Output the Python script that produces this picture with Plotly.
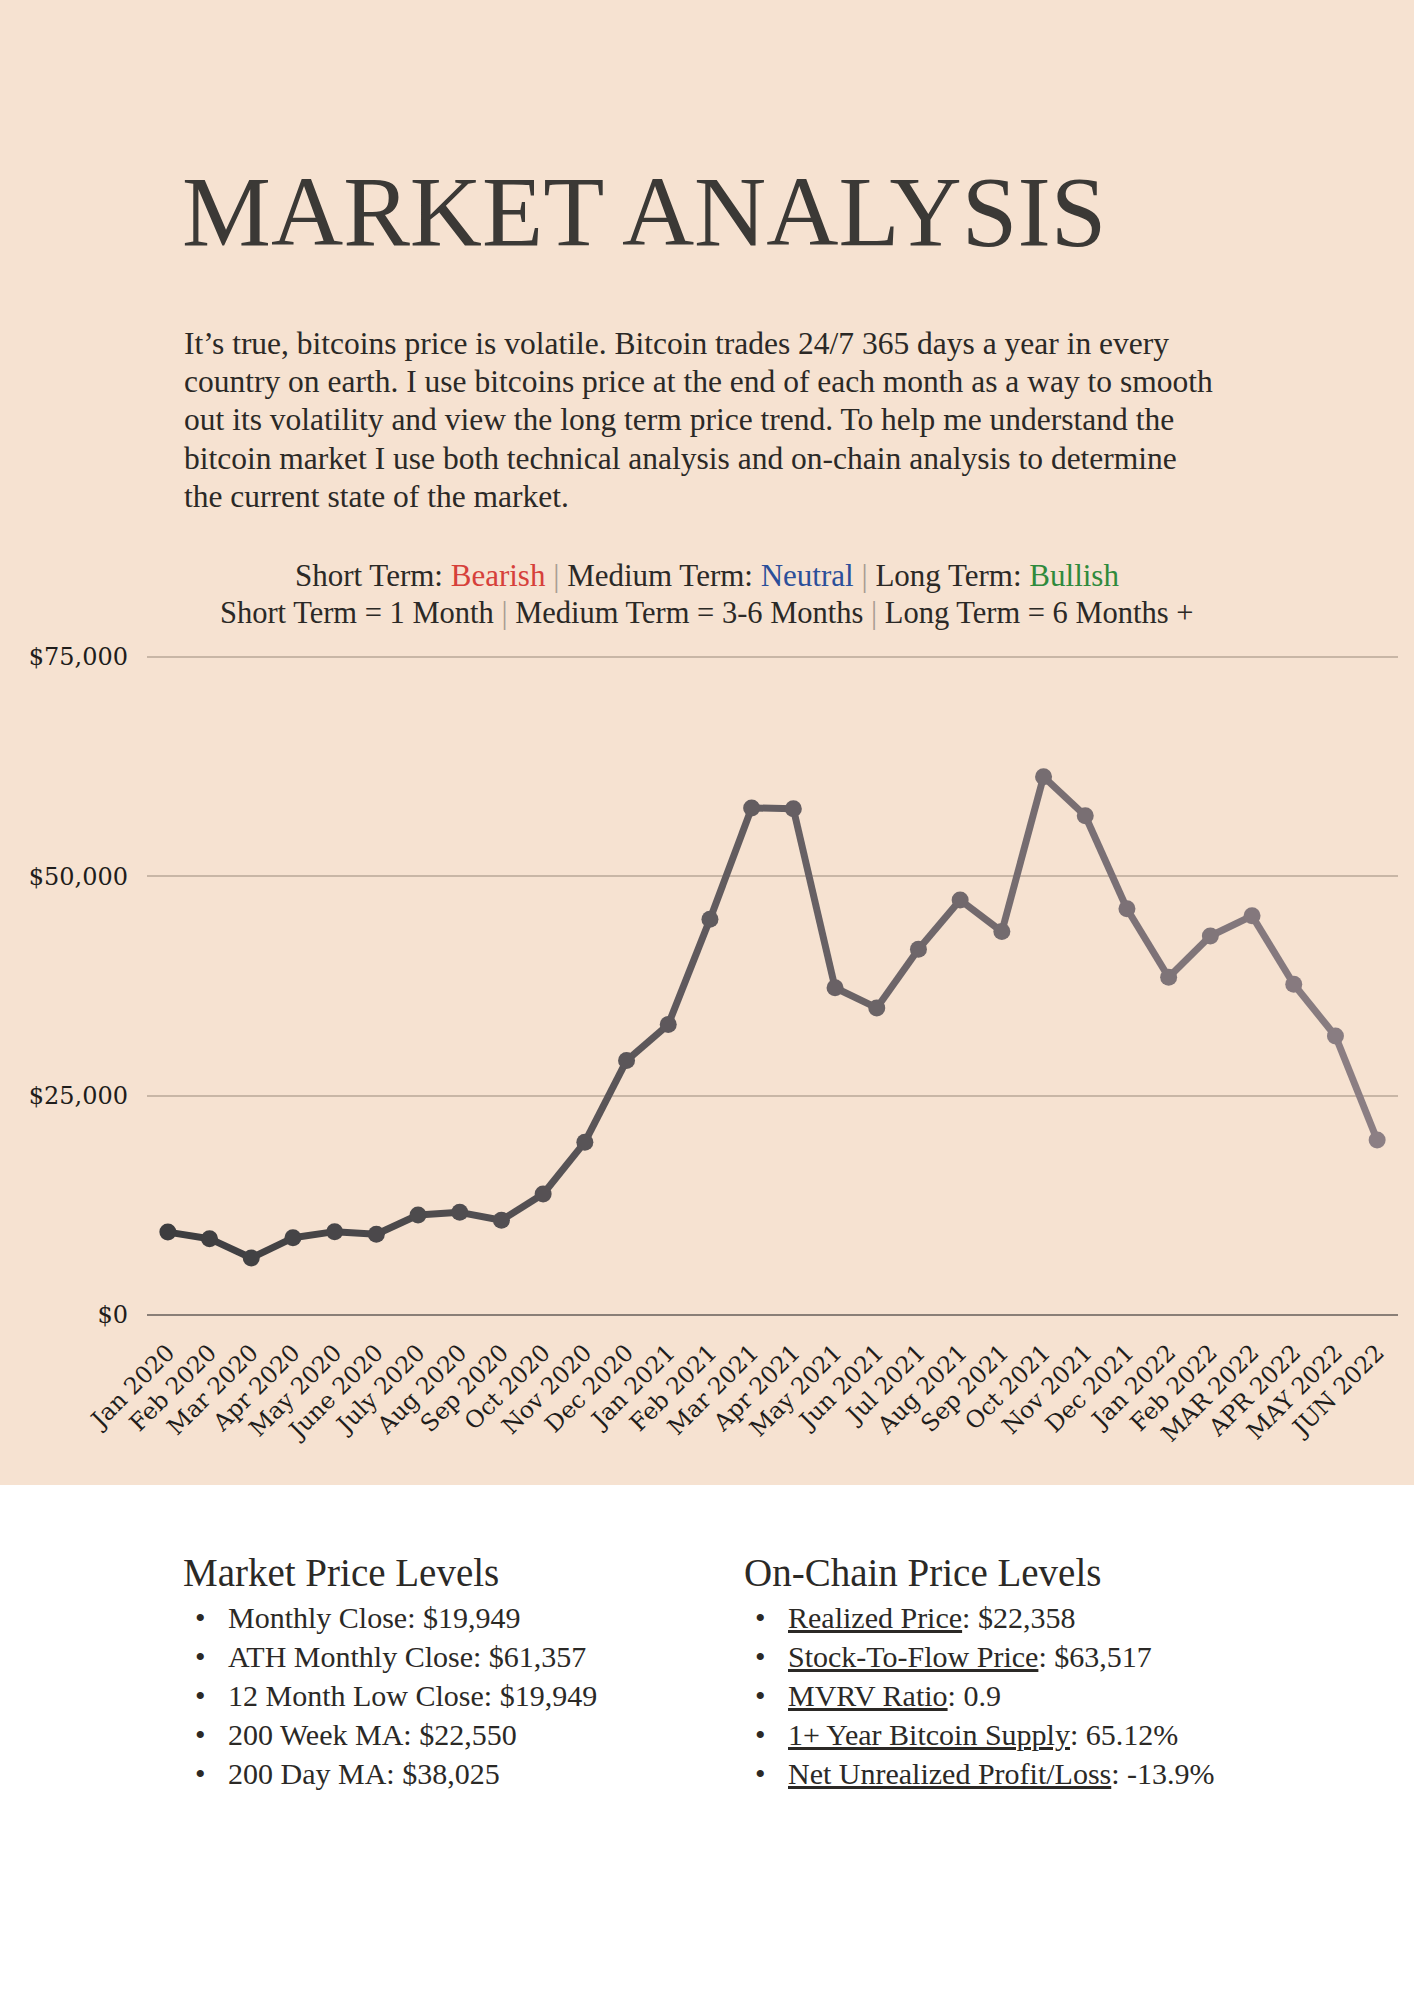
import plotly.graph_objects as go

# ---------------- data ----------------
months = ["Jan 2020", "Feb 2020", "Mar 2020", "Apr 2020", "May 2020", "June 2020",
          "July 2020", "Aug 2020", "Sep 2020", "Oct 2020", "Nov 2020", "Dec 2020",
          "Jan 2021", "Feb 2021", "Mar 2021", "Apr 2021", "May 2021", "Jun 2021",
          "Jul 2021", "Aug 2021", "Sep 2021", "Oct 2021", "Nov 2021", "Dec 2021",
          "Jan 2022", "Feb 2022", "MAR 2022", "APR 2022", "MAY 2022", "JUN 2022"]
prices = [9450, 8700, 6500, 8800, 9500, 9200,
          11400, 11700, 10800, 13800, 19700, 29000,
          33100, 45100, 57800, 57700, 37300, 35000,
          41700, 47300, 43700, 61357, 56900, 46300,
          38500, 43200, 45500, 37700, 31800, 19949]
y_ticks = [0, 25000, 50000, 75000]
y_tick_labels = ["$0", "$25,000", "$50,000", "$75,000"]

title_text = "MARKET ANALYSIS"
paragraph_lines = [
    "It\u2019s true, bitcoins price is volatile. Bitcoin trades 24/7 365 days a year in every",
    "country on earth. I use bitcoins price at the end of each month as a way to smooth",
    "out its volatility and view the long term price trend. To help me understand the",
    "bitcoin market I use both technical analysis and on-chain analysis to determine",
    "the current state of the market.",
]
market_heading = "Market Price Levels"
market_items = ["Monthly Close: $19,949", "ATH Monthly Close: $61,357",
                "12 Month Low Close: $19,949", "200 Week MA: $22,550",
                "200 Day MA: $38,025"]
onchain_heading = "On-Chain Price Levels"
onchain_names = ["Realized Price", "Stock-To-Flow Price", "MVRV Ratio",
                 "1+ Year Bitcoin Supply", "Net Unrealized Profit/Loss"]
onchain_values = ["$22,358", "$63,517", "0.9", "65.12%", "-13.9%"]

# ---------------- style ----------------
W, H = 1414, 2000
BEIGE = "#f6e2d1"
TEXT = "#2b2926"
SERIF = "Liberation Serif"
TICKFONT = "DejaVu Serif"
c_start = (61, 61, 63)
c_end = (140, 127, 132)

Y_TOP = 75400
y0_px, y75_px = 1315, 657
top_px = y0_px - (y0_px - y75_px) * Y_TOP / 75000


def px(x):
    return x / W


def py(y):
    return 1 - y / H


def grad(t):
    r, g, b = (round(a + (b_ - a) * t) for a, b_ in zip(c_start, c_end))
    return f"rgb({r},{g},{b})"


n = len(months)
fig = go.Figure()
for i in range(n - 1):
    fig.add_trace(go.Scatter(
        x=months[i:i + 2], y=prices[i:i + 2], mode="lines",
        line=dict(color=grad((i + 0.5) / (n - 1)), width=7),
        hoverinfo="skip", showlegend=False))
fig.add_trace(go.Scatter(
    x=months, y=prices, mode="markers",
    marker=dict(size=17, color=[grad(i / (n - 1)) for i in range(n)]),
    showlegend=False))

fig.update_layout(
    width=W, height=H,
    margin=dict(l=0, r=0, t=0, b=0, pad=0, autoexpand=False),
    paper_bgcolor="white",
    plot_bgcolor="rgba(0,0,0,0)",
    xaxis=dict(domain=[px(147), px(1398)], type="category", automargin=False,
               categoryorder="array", categoryarray=months,
               range=[-0.5, n - 0.5], showgrid=False, zeroline=False,
               tickangle=-45, tickfont=dict(family=TICKFONT, size=23.5, color="#1f1d1b"),
               ticks="", ticklabelstandoff=18),
    yaxis=dict(domain=[py(y0_px), py(top_px)], range=[0, Y_TOP], automargin=False,
               tickvals=y_ticks, ticktext=y_tick_labels,
               showgrid=True, gridcolor="#c8b6a6", gridwidth=1.5,
               zeroline=True, zerolinecolor="#8a7f77", zerolinewidth=2,
               tickfont=dict(family=TICKFONT, size=24, color="#1f1d1b"),
               ticks="", ticklabelstandoff=18),
    shapes=[dict(type="rect", xref="paper", yref="paper", x0=0, x1=1,
                 y0=py(1485), y1=1, fillcolor=BEIGE, line=dict(width=0),
                 layer="below")],
)

ann = []
ann.append(dict(text=title_text, x=px(180), y=py(212), xanchor="left", yanchor="middle",
                font=dict(family=SERIF, size=100, color="#3b3936")))
for k, line in enumerate(paragraph_lines):
    ann.append(dict(text=line, x=px(182), y=py(343 + k * 38.5), xanchor="left",
                    yanchor="middle", font=dict(family=SERIF, size=31.5, color=TEXT)))

sep = "<span style='color:#a89c92'> | </span>"
term1 = ("Short Term: <span style='color:#d6403a'>Bearish</span>" + sep +
         "Medium Term: <span style='color:#2b4f9a'>Neutral</span>" + sep +
         "Long Term: <span style='color:#2f8a3c'>Bullish</span>")
term2 = ("Short Term = 1 Month" + sep + "Medium Term = 3-6 Months" + sep +
         "Long Term = 6 Months +")
ann.append(dict(text=term1, x=0.5, y=py(575), xanchor="center", yanchor="middle",
                font=dict(family=SERIF, size=31, color=TEXT)))
ann.append(dict(text=term2, x=0.5, y=py(613), xanchor="center", yanchor="middle",
                font=dict(family=SERIF, size=30.5, color=TEXT)))

ann.append(dict(text=market_heading, x=px(181), y=py(1572), xanchor="left", yanchor="middle",
                font=dict(family=SERIF, size=39, color=TEXT)))
ann.append(dict(text=onchain_heading, x=px(742), y=py(1572), xanchor="left", yanchor="middle",
                font=dict(family=SERIF, size=39, color=TEXT)))
for k, item in enumerate(market_items):
    yy = py(1617 + k * 39)
    ann.append(dict(text="\u2022", x=px(200), y=yy, xanchor="center", yanchor="middle",
                    font=dict(family=SERIF, size=30, color=TEXT)))
    ann.append(dict(text=item, x=px(226), y=yy, xanchor="left", yanchor="middle",
                    font=dict(family=SERIF, size=30, color=TEXT)))
for k, (nm, val) in enumerate(zip(onchain_names, onchain_values)):
    yy = py(1617 + k * 39)
    ann.append(dict(text="\u2022", x=px(760), y=yy, xanchor="center", yanchor="middle",
                    font=dict(family=SERIF, size=30, color=TEXT)))
    ann.append(dict(text=f"<u>{nm}</u>: {val}", x=px(786), y=yy, xanchor="left",
                    yanchor="middle", font=dict(family=SERIF, size=30, color=TEXT)))

for a in ann:
    a.update(xref="paper", yref="paper", showarrow=False)
fig.update_layout(annotations=ann)

fig.write_html("out.html", config={"displayModeBar": False},
               post_script="document.body.style.margin='0';")
